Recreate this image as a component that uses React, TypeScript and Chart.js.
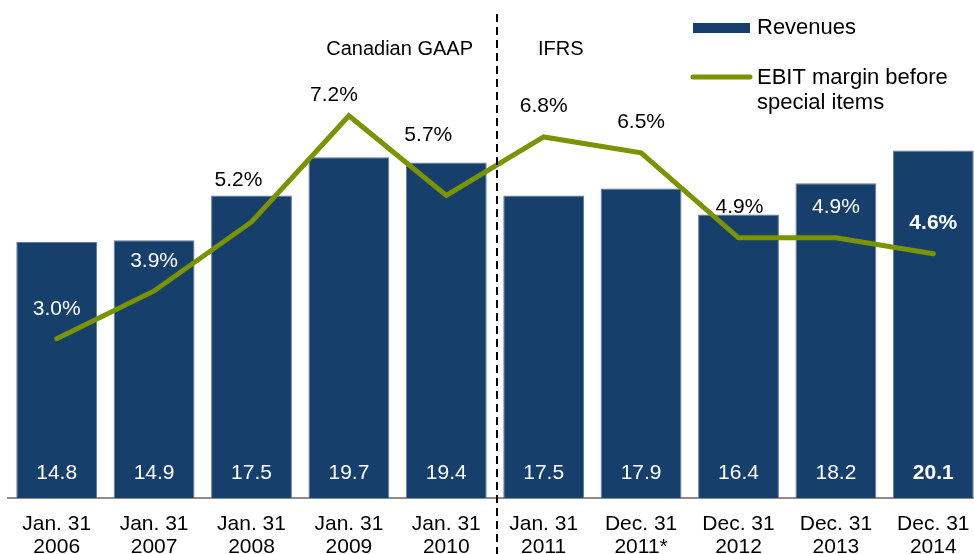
import React, { useEffect, useRef } from 'react';
import { Chart, registerables } from 'chart.js';

Chart.register(...registerables);

const categories: string[][] = [
  ['Jan. 31', '2006'],
  ['Jan. 31', '2007'],
  ['Jan. 31', '2008'],
  ['Jan. 31', '2009'],
  ['Jan. 31', '2010'],
  ['Jan. 31', '2011'],
  ['Dec. 31', '2011*'],
  ['Dec. 31', '2012'],
  ['Dec. 31', '2013'],
  ['Dec. 31', '2014'],
];
const revenues = [14.8, 14.9, 17.5, 19.7, 19.4, 17.5, 17.9, 16.4, 18.2, 20.1];
const ebitMargin = [3.0, 3.9, 5.2, 7.2, 5.7, 6.8, 6.5, 4.9, 4.9, 4.6];
const seriesNames = ['Revenues', 'EBIT margin before', 'special items'];
const sectionNames = ['Canadian GAAP', 'IFRS'];

const FONT = '"Liberation Sans", Arial, Helvetica, sans-serif';
const NAVY = '#173f6b';
const GREEN = '#7a9300';

// label placement relative to line points (style only)
const lineLabelStyle = [
  { dx: 0, dy: -30, color: '#ffffff', bold: false },
  { dx: 0, dy: -30, color: '#ffffff', bold: false },
  { dx: -13, dy: -42, color: '#000000', bold: false },
  { dx: -15, dy: -21, color: '#000000', bold: false },
  { dx: -18, dy: -60, color: '#000000', bold: false },
  { dx: 0, dy: -31, color: '#000000', bold: false },
  { dx: 0, dy: -31, color: '#000000', bold: false },
  { dx: 1, dy: -31, color: '#000000', bold: false },
  { dx: 0, dy: -31, color: '#ffffff', bold: false },
  { dx: 0, dy: -31, color: '#ffffff', bold: true },
];

const overlayPlugin = {
  id: 'overlay',
  afterDatasetsDraw(chart: any) {
    const ctx = chart.ctx as CanvasRenderingContext2D;
    const barMeta = chart.getDatasetMeta(0);
    const lineMeta = chart.getDatasetMeta(1);
    const xScale = chart.scales.x;
    const area = chart.chartArea;
    ctx.save();

    // bar values
    ctx.textAlign = 'center';
    ctx.textBaseline = 'middle';
    barMeta.data.forEach((bar: any, i: number) => {
      const last = i === revenues.length - 1;
      ctx.font = `${last ? 'bold ' : ''}21px ${FONT}`;
      ctx.fillStyle = '#ffffff';
      ctx.fillText(revenues[i].toFixed(1), bar.x, area.bottom - 25);
    });

    // line labels
    lineMeta.data.forEach((pt: any, i: number) => {
      const s = lineLabelStyle[i];
      ctx.font = `${s.bold ? 'bold ' : ''}21px ${FONT}`;
      ctx.fillStyle = s.color;
      ctx.fillText(ebitMargin[i].toFixed(1) + '%', pt.x + s.dx, pt.y + s.dy);
    });

    // dashed divider
    const divX = (xScale.getPixelForValue(4) + xScale.getPixelForValue(5)) / 2 + 2;
    ctx.beginPath();
    ctx.setLineDash([8, 5]);
    ctx.lineWidth = 2;
    ctx.strokeStyle = '#000000';
    ctx.moveTo(divX, 14);
    ctx.lineTo(divX, chart.height);
    ctx.stroke();
    ctx.setLineDash([]);

    // section names
    ctx.font = `20px ${FONT}`;
    ctx.fillStyle = '#000000';
    ctx.textAlign = 'right';
    ctx.fillText(sectionNames[0], divX - 24, 49);
    ctx.textAlign = 'left';
    ctx.fillText(sectionNames[1], divX + 41, 49);

    // legend
    ctx.fillStyle = NAVY;
    ctx.fillRect(693, 23, 57, 10);
    ctx.beginPath();
    ctx.lineCap = 'round';
    ctx.lineWidth = 5;
    ctx.strokeStyle = GREEN;
    ctx.moveTo(693, 77);
    ctx.lineTo(750, 77);
    ctx.stroke();
    ctx.font = `22px ${FONT}`;
    ctx.fillStyle = '#000000';
    ctx.textAlign = 'left';
    ctx.fillText(seriesNames[0], 757, 28);
    ctx.fillText(seriesNames[1], 757, 78);
    ctx.fillText(seriesNames[2], 757, 103);

    ctx.restore();
  },
};

export default function App() {
  const ref = useRef<HTMLCanvasElement | null>(null);

  useEffect(() => {
    if (!ref.current) return;
    const chart = new Chart(ref.current, {
      type: 'bar',
      data: {
        labels: categories,
        datasets: [
          {
            type: 'bar',
            label: seriesNames[0],
            data: revenues,
            yAxisID: 'y',
            backgroundColor: NAVY,
            borderColor: '#5a7aa0',
            borderWidth: 1,
            barPercentage: 0.83,
            categoryPercentage: 1,
            order: 2,
          },
          {
            type: 'line',
            label: seriesNames[1] + ' ' + seriesNames[2],
            data: ebitMargin,
            yAxisID: 'y1',
            borderColor: GREEN,
            borderWidth: 5,
            pointRadius: 0,
            tension: 0,
            borderCapStyle: 'round',
            borderJoinStyle: 'miter',
            order: 1,
          },
        ],
      } as any,
      options: {
        animation: false,
        responsive: false,
        devicePixelRatio: 1,
        layout: { padding: { left: 8, right: 8, top: 0, bottom: 0 } },
        plugins: {
          legend: { display: false },
          tooltip: { enabled: false },
        },
        scales: {
          x: {
            offset: true,
            grid: { display: false, drawTicks: false },
            border: { display: true, color: '#8c8c8c', width: 2 },
            ticks: {
              color: '#000000',
              font: { size: 21, family: FONT, lineHeight: 1.08 },
              padding: 15,
              maxRotation: 0,
              autoSkip: false,
            },
            afterFit: (s: any) => {
              s.height = 56;
            },
          },
          y: { display: false, min: 0, max: 28.8 },
          y1: { display: false, min: 0, max: 9.38, position: 'right' },
        },
      } as any,
      plugins: [overlayPlugin],
    });
    return () => chart.destroy();
  }, []);

  return (
    <div
      style={{
        position: 'fixed',
        left: 0,
        top: 0,
        width: 974,
        height: 554,
        overflow: 'hidden',
        background: '#ffffff',
      }}
    >
      <canvas ref={ref} width={990} height={554} style={{ display: 'block' }} />
    </div>
  );
}
